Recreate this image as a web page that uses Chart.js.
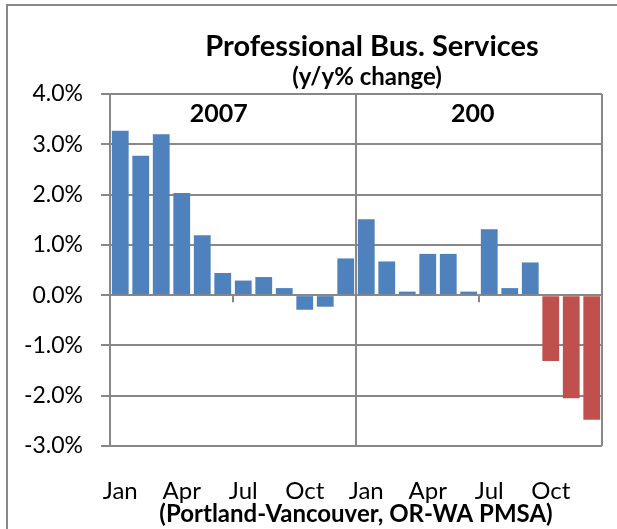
<!DOCTYPE html>
<html>
<head>
<meta charset="utf-8">
<script src="https://cdn.jsdelivr.net/npm/chart.js@4"></script>
<style>
  html, body { margin: 0; padding: 0; background: #fff; }
  #wrap { width: 617px; height: 529px; }
</style>
</head>
<body>
<div id="wrap"><canvas id="grafico" width="617" height="529"></canvas></div>
<script>
// categorias: meses de 2007 e 2008
const meses = ["Jan", "Feb", "Mar", "Apr", "May", "Jun", "Jul", "Aug", "Sep", "Oct", "Nov", "Dec"];
const anos = ["2007", "2008"];
const categorias = [];
anos.forEach(a => meses.forEach(m => categorias.push(m + " " + a)));

// variação y/y em %
const variacaoAnterior = [3.27, 2.77, 3.20, 2.03, 1.19, 0.44, 0.29, 0.36, 0.14, -0.29, -0.23, 0.73,
                          1.51, 0.67, 0.07, 0.82, 0.82, 0.07, 1.31, 0.14, 0.65, null, null, null];
const variacaoRecente = [null, null, null, null, null, null, null, null, null, null, null, null,
                         null, null, null, null, null, null, null, null, null, -1.31, -2.05, -2.48];

const ticksY = [-3, -2, -1, 0, 1, 2, 3, 4];
const mesesVisiveis = ["Jan", "Apr", "Jul", "Oct"];
const rotulosAno = ["2007", "200"];

const cinza = "#888888";
const fonte = "Lato";

const molduraETextos = {
  id: "molduraETextos",
  beforeDraw(chart) {
    const ctx = chart.ctx;
    ctx.save();
    ctx.fillStyle = "#fff";
    ctx.fillRect(0, 0, chart.width, chart.height);
    ctx.strokeStyle = cinza;
    ctx.lineWidth = 2;
    ctx.beginPath();
    ctx.moveTo(7, chart.height);
    ctx.lineTo(7, 5);
    ctx.lineTo(chart.width, 5);
    ctx.stroke();
    ctx.restore();
  },
  afterDatasetsDraw(chart) {
    const { ctx, chartArea, scales } = chart;
    const x = scales.x, y = scales.y;
    const passo = (x.right - x.left) / categorias.length;
    const zero = y.getPixelForValue(0);
    ctx.save();
    ctx.strokeStyle = cinza;
    ctx.lineWidth = 2;
    // divisória entre anos e borda direita
    [12, 24].forEach(i => {
      const px = Math.round(x.left + i * passo);
      ctx.beginPath();
      ctx.moveTo(px, chartArea.top);
      ctx.lineTo(px, chartArea.bottom);
      ctx.stroke();
    });
    // marcas curtas no eixo zero
    [6, 18].forEach(i => {
      const px = Math.round(x.left + i * passo);
      ctx.beginPath();
      ctx.moveTo(px, zero);
      ctx.lineTo(px, zero + 7);
      ctx.stroke();
    });
    ctx.fillStyle = "#000";
    ctx.textAlign = "center";
    ctx.textBaseline = "alphabetic";
    ctx.font = "bold 29px " + fonte;
    ctx.fillText("Professional Bus. Services", 372, 56);
    ctx.font = "bold 24px " + fonte;
    ctx.fillText("(y/y% change)", 367, 85);
    ctx.font = "bold 25px " + fonte;
    ctx.fillText(rotulosAno[0], x.getPixelForValue(5) - 4, 122);
    ctx.fillText(rotulosAno[1], x.getPixelForValue(17) + 4, 122);
    ctx.restore();
  }
};

new Chart(document.getElementById("grafico"), {
  type: "bar",
  data: {
    labels: categorias,
    datasets: [{
      data: variacaoAnterior,
      backgroundColor: "#4F81BD",
      borderWidth: 0,
      grouped: false,
      barPercentage: 0.82,
      categoryPercentage: 1
    }, {
      data: variacaoRecente,
      backgroundColor: "#C0504D",
      borderWidth: 0,
      grouped: false,
      barPercentage: 0.82,
      categoryPercentage: 1
    }]
  },
  options: {
    responsive: false,
    animation: false,
    layout: { padding: { left: 0, right: 15, top: 94, bottom: 0 } },
    plugins: {
      legend: { display: false },
      tooltip: { enabled: false }
    },
    scales: {
      x: {
        grid: { display: false },
        border: { display: false },
        afterFit(scale) { scale.height = 83; },
        ticks: {
          autoSkip: false,
          maxRotation: 0,
          padding: 23,
          color: "#000",
          font: { family: fonte, size: 24 },
          callback(valor, i) {
            const m = meses[i % 12];
            return mesesVisiveis.includes(m) ? m : "";
          }
        },
        title: {
          display: true,
          text: "(Portland-Vancouver, OR-WA PMSA)",
          color: "#000",
          font: { family: fonte, size: 24, weight: "bold" },
          padding: { top: 0, bottom: 0 }
        }
      },
      y: {
        min: ticksY[0],
        max: ticksY[ticksY.length - 1],
        afterFit(scale) { scale.width = 110; },
        afterBuildTicks(scale) { scale.ticks = ticksY.map(v => ({ value: v })); },
        grid: { color: cinza, lineWidth: 2, tickLength: 9, drawTicks: true },
        border: { display: true, color: cinza, width: 2 },
        ticks: {
          padding: 18,
          color: "#000",
          font: { family: fonte, size: 23 },
          callback: v => v.toFixed(1) + "%"
        }
      }
    }
  },
  plugins: [molduraETextos]
});
</script>
</body>
</html>
